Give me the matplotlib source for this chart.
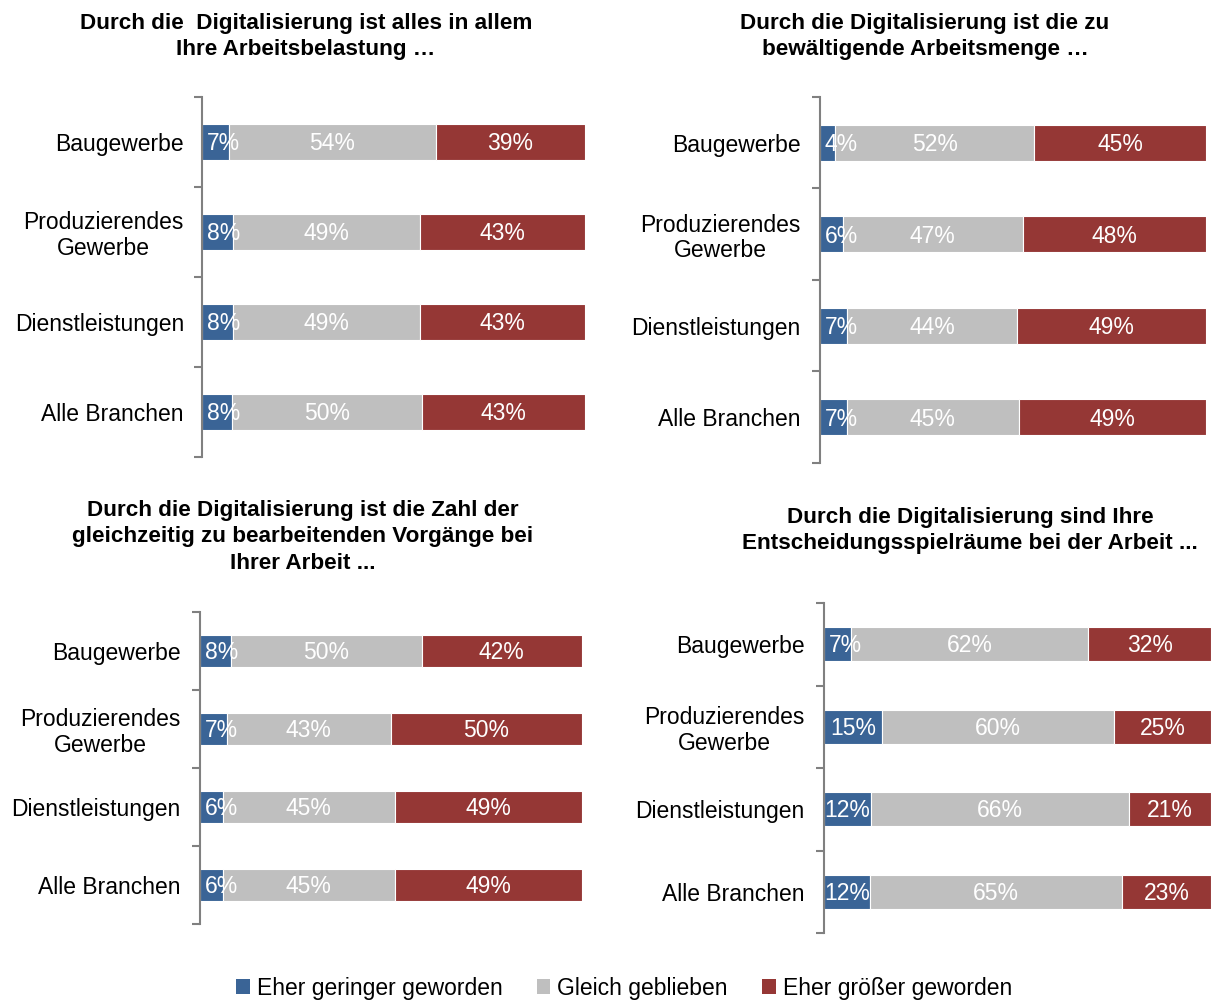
import numpy as np
import matplotlib.pyplot as plt
from matplotlib.patches import Patch

plt.rcParams['font.family'] = ['Liberation Sans', 'DejaVu Sans']

# categories (top to bottom)
categories = ['Baugewerbe', 'Produzierendes\nGewerbe', 'Dienstleistungen', 'Alle Branchen']
series_names = ['Eher geringer geworden', 'Gleich geblieben', 'Eher größer geworden']
colors = ['#3A6496', '#BFBFBF', '#953735']

titles = [
    'Durch die  Digitalisierung ist alles in allem\nIhre Arbeitsbelastung …',
    'Durch die Digitalisierung ist die zu\nbewältigende Arbeitsmenge …',
    'Durch die Digitalisierung ist die Zahl der\ngleichzeitig zu bearbeitenden Vorgänge bei\nIhrer Arbeit ...',
    'Durch die Digitalisierung sind Ihre\nEntscheidungsspielräume bei der Arbeit ...',
]

# values per panel: [geringer, gleich, größer] per category
belastung = [[7, 54, 39], [8, 49, 43], [8, 49, 43], [8, 50, 43]]
menge = [[4, 52, 45], [6, 47, 48], [7, 44, 49], [7, 45, 49]]
vorgaenge = [[8, 50, 42], [7, 43, 50], [6, 45, 49], [6, 45, 49]]
spielraeume = [[7, 62, 32], [15, 60, 25], [12, 66, 21], [12, 65, 23]]
panels = [belastung, menge, vorgaenge, spielraeume]

W, H = 1215, 1001
# axes boxes in pixels: x_left, x_right, y_top, y_bottom
boxes = [(202, 585, 97, 457), (820, 1206, 97, 463),
         (200, 582, 612, 924), (824, 1211, 603, 933)]
bar_h = [0.40, 0.39, 0.41, 0.41]
label_pad = [13, 14, 14, 14]
title_pos = [(306, 13), (925, 13), (303, 500), (970, 507)]

fig = plt.figure(figsize=(W / 100, H / 100), dpi=100)

for k, data in enumerate(panels):
    x0, x1, y0, y1 = boxes[k]
    ax = fig.add_axes([x0 / W, 1 - y1 / H, (x1 - x0) / W, (y1 - y0) / H])
    vals = np.array(data, dtype=float)
    share = vals / vals.sum(axis=1, keepdims=True) * 100
    y = np.arange(len(categories))
    left = np.zeros(len(categories))
    for j in range(3):
        ax.barh(y, share[:, j], left=left, height=bar_h[k], color=colors[j],
                edgecolor='white', linewidth=0.8)
        for i in range(len(categories)):
            if share[i, j] < 10:
                # narrow segment: label starts just inside the bar
                ax.text(left[i] + 1.2, y[i] + 0.02, f'{int(vals[i, j])}%',
                        ha='left', va='center', color='white', fontsize=16.5)
            else:
                ax.text(left[i] + share[i, j] / 2, y[i] + 0.02, f'{int(vals[i, j])}%',
                        ha='center', va='center', color='white', fontsize=16.5)
        left += share[:, j]
    ax.set_xlim(0, 100)
    ax.set_ylim(len(categories) - 0.5, -0.5)
    ax.set_yticks(y)
    ax.set_yticklabels(categories, fontsize=16.5, linespacing=1.15,
                       multialignment='center')
    ax.tick_params(axis='y', which='major', length=0, pad=label_pad[k])
    ax.set_yticks(np.arange(-0.5, len(categories)), minor=True)
    ax.tick_params(axis='y', which='minor', length=6, width=1.5, color='#808080')
    ax.set_xticks([])
    for s in ['top', 'right', 'bottom']:
        ax.spines[s].set_visible(False)
    ax.spines['left'].set_color('#808080')
    ax.spines['left'].set_linewidth(1.5)
    tx, ty = title_pos[k]
    fig.text(tx / W, 1 - ty / H, titles[k], ha='center', va='top',
             fontsize=16.2, fontweight='bold', linespacing=1.33)

handles = [Patch(facecolor=c) for c in colors]
fig.legend(handles, series_names, loc='center', bbox_to_anchor=(624 / W, 1 - 988 / H),
           ncol=3, frameon=False, fontsize=16.5, handlelength=0.6, handleheight=0.6,
           handletextpad=0.3, columnspacing=1.5)

fig.savefig('out.png', dpi=100)
